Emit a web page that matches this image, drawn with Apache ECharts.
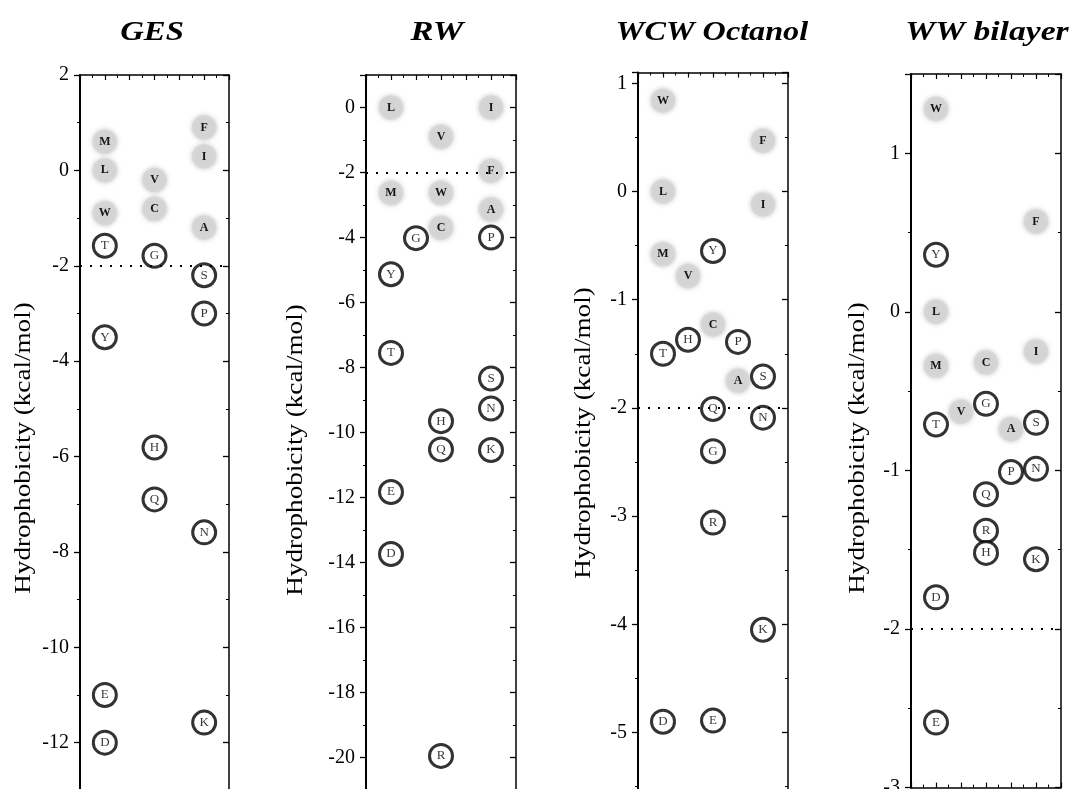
<!DOCTYPE html>
<html><head><meta charset="utf-8">
<script src="https://cdn.jsdelivr.net/npm/echarts@6/dist/echarts.min.js"></script>
<style>html,body{margin:0;padding:0;background:#fff}#c{width:1074px;height:789px}</style>
</head><body><div id="c"></div>
<script>
// ---------- DATA ----------
const panelTitles = ['GES', 'RW', 'WCW Octanol', 'WW bilayer'];
const axisTitle = 'Hydrophobicity (kcal/mol)';
const hydrophobicResidues = ['M', 'L', 'W', 'V', 'C', 'F', 'I', 'A'];

const gesResidues = ['M','L','W','T','Y','E','D','V','C','G','H','Q','F','I','A','S','P','N','K'];
const gesColumns  = [1,1,1,1,1,1,1,3,3,3,3,3,5,5,5,5,5,5,5];
const gesValues   = [0.6,0.0,-0.9,-1.58,-3.5,-11.0,-12.0,-0.2,-0.81,-1.79,-5.81,-6.9,0.9,0.29,-1.2,-2.2,-3.0,-7.59,-11.58];

const rwResidues = ['L','M','Y','T','E','D','G','V','W','C','H','Q','R','I','F','A','P','S','N','K'];
const rwColumns  = [1,1,1,1,1,1,2,3,3,3,3,3,3,5,5,5,5,5,5,5];
const rwValues   = [0.0,-2.63,-5.13,-7.55,-11.83,-13.74,-4.02,-0.9,-2.63,-3.7,-9.65,-10.52,-19.95,0.0,-1.95,-3.14,-4.0,-8.34,-9.26,-10.54];

const wcwResidues = ['W','L','M','T','D','V','H','Y','C','Q','G','R','E','P','A','F','I','S','N','K'];
const wcwColumns  = [1,1,1,1,1,2,2,3,3,3,3,3,3,4,4,5,5,5,5,5];
const wcwValues   = [0.84,0.0,-0.58,-1.5,-4.9,-0.78,-1.37,-0.55,-1.23,-2.01,-2.4,-3.06,-4.89,-1.39,-1.75,0.47,-0.12,-1.71,-2.09,-4.05];

const wwResidues = ['W','Y','L','M','T','D','E','V','C','G','Q','R','H','A','P','F','I','S','N','K'];
const wwColumns  = [1,1,1,1,1,1,1,2,3,3,3,3,3,4,4,5,5,5,5,5];
const wwValues   = [1.28,0.36,0.0,-0.34,-0.71,-1.80,-2.59,-0.63,-0.32,-0.58,-1.15,-1.38,-1.52,-0.74,-1.01,0.57,-0.25,-0.70,-0.99,-1.56];

const yMins = [-14, -22, -6, -3];
const yMaxs = [2, 1, 1.1, 1.5];
const ySteps = [2, 2, 1, 1];
const thresholdValue = -2;

// ---------- LAYOUT ----------
const layouts = [
  {left: 80,  top: 75,   width: 149, height: 763,   titleX: 152, nameX: 24,  nameY: 448, showMax: true,  showMin: false},
  {left: 366, top: 75,   width: 150, height: 747.5, titleX: 437, nameX: 296, nameY: 450, showMax: false, showMin: false},
  {left: 638, top: 72.5, width: 150, height: 768.2, titleX: 712, nameX: 584, nameY: 433, showMax: false, showMin: false},
  {left: 911, top: 74,   width: 150, height: 713.6, titleX: 987, nameX: 858, nameY: 448, showMax: false, showMin: true}
];
const titleStretch = [1.17, 1.23, 1.15, 1.2];

const panelData = [
  {residues: gesResidues, columns: gesColumns, values: gesValues},
  {residues: rwResidues,  columns: rwColumns,  values: rwValues},
  {residues: wcwResidues, columns: wcwColumns, values: wcwValues},
  {residues: wwResidues,  columns: wwColumns,  values: wwValues}
];

const FONT = '"Liberation Serif", "DejaVu Serif", serif';
const grids = [], xAxes = [], yAxes = [], series = [], graphics = [];

layouts.forEach((L, p) => {
  grids.push({left: L.left, top: L.top, width: L.width, height: L.height,
    containLabel: false, outerBoundsMode: 'none'});
  const xBase = {
    type: 'value', gridIndex: p, min: 0, max: 6, interval: 1,
    axisLine: {show: true, onZero: false, lineStyle: {color: '#000', width: 1.5}},
    axisTick: {show: true, inside: true, length: 5, lineStyle: {color: '#000', width: 1.2}},
    minorTick: {show: true, splitNumber: 2, length: 3, lineStyle: {color: '#000', width: 1}},
    axisLabel: {show: false}, splitLine: {show: false}
  };
  xAxes.push(Object.assign({}, xBase, {position: 'bottom'}));
  xAxes.push(Object.assign({}, xBase, {position: 'top'}));
  const yBase = {
    type: 'value', gridIndex: p, min: yMins[p], max: yMaxs[p], interval: ySteps[p],
    splitLine: {show: false}
  };
  yAxes.push(Object.assign({}, yBase, {
    position: 'left',
    axisLine: {show: true, onZero: false, lineStyle: {color: '#000', width: 2}},
    axisTick: {show: true, inside: false, length: 6, lineStyle: {color: '#000', width: 1.3}},
    minorTick: {show: true, splitNumber: 2, length: 3, lineStyle: {color: '#000', width: 1}},
    axisLabel: {show: true, color: '#000', fontFamily: FONT, fontSize: 20, margin: 11,
      showMaxLabel: L.showMax, showMinLabel: L.showMin}
  }));
  yAxes.push(Object.assign({}, yBase, {
    position: 'right',
    axisLine: {show: true, onZero: false, lineStyle: {color: '#000', width: 1.5}},
    axisTick: {show: true, inside: true, length: 6, lineStyle: {color: '#000', width: 1.3}},
    minorTick: {show: true, splitNumber: 2, length: 3, lineStyle: {color: '#000', width: 1}},
    axisLabel: {show: false}
  }));

  const d = panelData[p];
  const grey = [], polar = [];
  d.residues.forEach((r, i) => {
    const pt = {name: r, value: [d.columns[i], d.values[i]]};
    (hydrophobicResidues.includes(r) ? grey : polar).push(pt);
  });
  series.push({
    type: 'scatter', xAxisIndex: 2 * p, yAxisIndex: 2 * p, data: grey, z: 2,
    symbol: 'circle', symbolSize: 24, silent: true,
    itemStyle: {color: '#d6d6d6', opacity: 0.9, shadowBlur: 5, shadowColor: 'rgba(150,150,150,0.7)'},
    label: {show: true, position: 'inside', formatter: '{b}', color: '#000',
      fontFamily: FONT, fontWeight: 'bold', fontSize: 12},
    markLine: {
      silent: true, symbol: 'none', animation: false,
      label: {show: false},
      lineStyle: {type: [2, 8], color: '#000', width: 2},
      data: [{yAxis: thresholdValue}]
    }
  });
  series.push({
    type: 'scatter', xAxisIndex: 2 * p, yAxisIndex: 2 * p, data: polar, z: 3,
    symbol: 'circle', symbolSize: 23, silent: true,
    itemStyle: {color: '#fff', borderColor: '#000', borderWidth: 3},
    label: {show: true, position: 'inside', formatter: '{b}', color: '#000',
      fontFamily: FONT, fontSize: 13}
  });

  graphics.push({
    type: 'text', x: L.titleX, y: 33, scaleX: titleStretch[p],
    style: {text: panelTitles[p], font: 'italic bold 28px ' + FONT, fill: '#000',
      align: 'center', verticalAlign: 'middle'}
  });
  graphics.push({
    type: 'text', x: L.nameX, y: L.nameY, rotation: Math.PI / 2, scaleX: 1.13,
    style: {text: axisTitle, font: '24px ' + FONT, fill: '#000',
      align: 'center', verticalAlign: 'middle'}
  });
});

const chart = echarts.init(document.getElementById('c'));
chart.setOption({
  animation: false,
  backgroundColor: '#fff',
  grid: grids, xAxis: xAxes, yAxis: yAxes, series: series,
  graphic: graphics
});
</script>
</body></html>
